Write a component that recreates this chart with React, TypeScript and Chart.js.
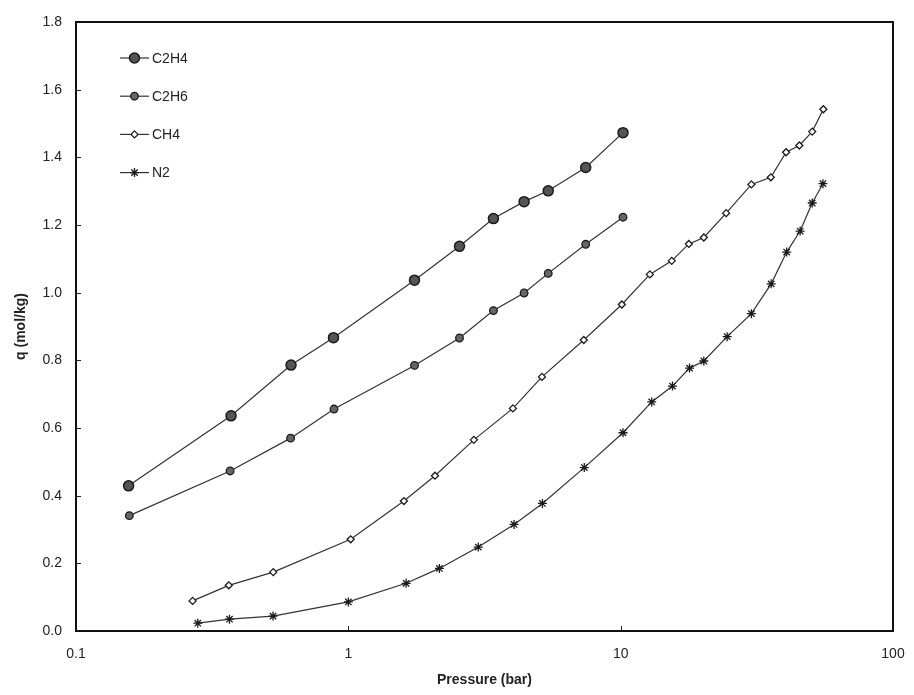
import React, { useEffect, useRef } from 'react';
import { Chart, registerables } from 'chart.js';
import { drawPoint } from 'chart.js/helpers';

Chart.register(...registerables);

const seriesNames = ['C2H4', 'C2H6', 'CH4', 'N2'];

const c2h4Pressure = [0.156, 0.371, 0.616, 0.882, 1.75, 2.56, 3.41, 4.42, 5.42, 7.44, 10.2];
const c2h4Uptake = [0.429, 0.636, 0.786, 0.867, 1.037, 1.137, 1.219, 1.269, 1.301, 1.37, 1.473];

const c2h6Pressure = [0.157, 0.368, 0.614, 0.886, 1.75, 2.56, 3.41, 4.42, 5.42, 7.44, 10.2];
const c2h6Uptake = [0.341, 0.473, 0.57, 0.656, 0.785, 0.866, 0.947, 0.999, 1.057, 1.143, 1.223];

const ch4Pressure = [0.268, 0.364, 0.53, 1.02, 1.6, 2.08, 2.89, 4.02, 5.14, 7.32, 10.1, 12.8, 15.4, 17.8, 20.2, 24.4, 30.2, 35.6, 40.5, 45.3, 50.5, 55.5];
const ch4Uptake = [0.089, 0.135, 0.174, 0.271, 0.384, 0.459, 0.565, 0.658, 0.751, 0.86, 0.965, 1.054, 1.094, 1.144, 1.163, 1.235, 1.32, 1.341, 1.415, 1.435, 1.476, 1.542];

const n2Pressure = [0.28, 0.366, 0.529, 1.0, 1.63, 2.16, 3.0, 4.06, 5.16, 7.35, 10.2, 13.0, 15.5, 17.9, 20.2, 24.6, 30.2, 35.7, 40.7, 45.6, 50.5, 55.3];
const n2Uptake = [0.023, 0.035, 0.044, 0.086, 0.141, 0.185, 0.248, 0.315, 0.377, 0.483, 0.586, 0.677, 0.724, 0.777, 0.798, 0.87, 0.938, 1.026, 1.12, 1.182, 1.265, 1.322];

const xTickValues = [0.1, 1, 10, 100];
const yTickValues = [0, 0.2, 0.4, 0.6, 0.8, 1.0, 1.2, 1.4, 1.6, 1.8];

const xTitle = 'Pressure (bar)';
const yTitle = 'q (mol/kg)';

const FONT = "'Liberation Sans', Arial, sans-serif";
const INK = '#222';

function pairs(xs: number[], ys: number[]) {
  return xs.map((x, i) => ({ x, y: ys[i] }));
}

const framePlugin = {
  id: 'framePlugin',
  afterDatasetsDraw(chart: any) {
    const { ctx, chartArea } = chart;
    const { left, right, top, bottom } = chartArea;
    ctx.save();
    ctx.strokeStyle = INK;
    ctx.lineWidth = 1;
    const ys = chart.scales.y;
    yTickValues.forEach((v) => {
      const py = Math.round(ys.getPixelForValue(v)) + 0.5;
      ctx.beginPath();
      ctx.moveTo(left, py);
      ctx.lineTo(left + 5, py);
      ctx.stroke();
    });
    const xs = chart.scales.x;
    xTickValues.forEach((v) => {
      const px = Math.round(xs.getPixelForValue(v)) + 0.5;
      ctx.beginPath();
      ctx.moveTo(px, bottom);
      ctx.lineTo(px, bottom - 5);
      ctx.stroke();
    });
    ctx.lineWidth = 2;
    ctx.strokeStyle = '#111';
    ctx.strokeRect(left, top, right - left, bottom - top);

    const lx0 = 120;
    const lx1 = 149;
    const textX = 152;
    const y0 = 58;
    const dy = 38.2;
    chart.data.datasets.forEach((ds: any, i: number) => {
      const y = y0 + i * dy;
      ctx.strokeStyle = ds.borderColor;
      ctx.lineWidth = ds.borderWidth;
      ctx.beginPath();
      ctx.moveTo(lx0, y);
      ctx.lineTo(lx1, y);
      ctx.stroke();
      ctx.fillStyle = ds.pointBackgroundColor;
      ctx.strokeStyle = ds.pointBorderColor;
      ctx.lineWidth = ds.pointBorderWidth;
      drawPoint(ctx, { pointStyle: ds.pointStyle, radius: ds.pointRadius, rotation: 0, borderWidth: ds.pointBorderWidth }, (lx0 + lx1) / 2, y);
      ctx.fillStyle = INK;
      ctx.font = `14px ${FONT}`;
      ctx.textAlign = 'left';
      ctx.textBaseline = 'middle';
      ctx.fillText(ds.label, textX, y + 1);
    });
    ctx.restore();
  },
};

export default function App() {
  const canvasRef = useRef<HTMLCanvasElement | null>(null);

  useEffect(() => {
    const canvas = canvasRef.current;
    if (!canvas) return;
    const common = {
      borderColor: '#333',
      borderWidth: 1.2,
      pointBorderColor: '#1a1a1a',
      showLine: true,
      tension: 0,
    };
    const chart = new Chart(canvas, {
      type: 'scatter',
      data: {
        datasets: [
          {
            ...common,
            label: seriesNames[0],
            data: pairs(c2h4Pressure, c2h4Uptake),
            pointStyle: 'circle',
            pointRadius: 5,
            pointBackgroundColor: '#555',
            pointBorderWidth: 1.5,
          },
          {
            ...common,
            label: seriesNames[1],
            data: pairs(c2h6Pressure, c2h6Uptake),
            pointStyle: 'circle',
            pointRadius: 3.8,
            pointBackgroundColor: '#666',
            pointBorderWidth: 1.3,
          },
          {
            ...common,
            label: seriesNames[2],
            data: pairs(ch4Pressure, ch4Uptake),
            pointStyle: 'rectRot',
            pointRadius: 3.5,
            pointBackgroundColor: '#fff',
            pointBorderWidth: 1.3,
          },
          {
            ...common,
            label: seriesNames[3],
            data: pairs(n2Pressure, n2Uptake),
            pointStyle: 'star',
            pointRadius: 4.5,
            pointBackgroundColor: '#fff',
            pointBorderWidth: 1.3,
          },
        ],
      } as any,
      options: {
        responsive: false,
        maintainAspectRatio: false,
        animation: false,
        layout: { padding: { top: 22, right: 21, left: 0, bottom: 0 } },
        plugins: {
          legend: { display: false },
          tooltip: { enabled: false },
        },
        scales: {
          x: {
            type: 'logarithmic',
            min: 0.1,
            max: 100,
            grid: { display: false, drawTicks: false, tickLength: 0 },
            border: { display: false },
            afterBuildTicks: (scale: any) => {
              scale.ticks = xTickValues.map((v) => ({ value: v }));
            },
            afterFit: (scale: any) => {
              scale.height = 64;
              scale.paddingLeft = 0;
              scale.paddingRight = 0;
            },
            ticks: {
              autoSkip: false,
              maxRotation: 0,
              padding: 15,
              color: INK,
              font: { family: FONT, size: 14 },
              callback: (v: any) => String(v),
            },
            title: {
              display: true,
              text: xTitle,
              color: INK,
              font: { family: FONT, size: 14, weight: 'bold' },
              padding: { top: 0, bottom: 6 },
            },
          },
          y: {
            type: 'linear',
            min: 0,
            max: 1.8,
            grid: { display: false, drawTicks: false, tickLength: 0 },
            border: { display: false },
            afterBuildTicks: (scale: any) => {
              scale.ticks = yTickValues.map((v) => ({ value: v }));
            },
            afterFit: (scale: any) => {
              scale.width = 76;
              scale.paddingTop = 0;
              scale.paddingBottom = 0;
            },
            ticks: {
              autoSkip: false,
              padding: 14,
              color: INK,
              font: { family: FONT, size: 14 },
              callback: (v: any) => Number(v).toFixed(1),
            },
            title: {
              display: true,
              text: yTitle,
              color: INK,
              font: { family: FONT, size: 14, weight: 'bold' },
              padding: { top: 13, bottom: 0 },
            },
          },
        },
      } as any,
      plugins: [framePlugin],
    });
    return () => chart.destroy();
  }, []);

  return (
    <div style={{ position: 'fixed', left: 0, top: 0, width: 914, height: 695, background: '#fff' }}>
      <canvas ref={canvasRef} width={914} height={695} style={{ display: 'block' }} />
    </div>
  );
}
